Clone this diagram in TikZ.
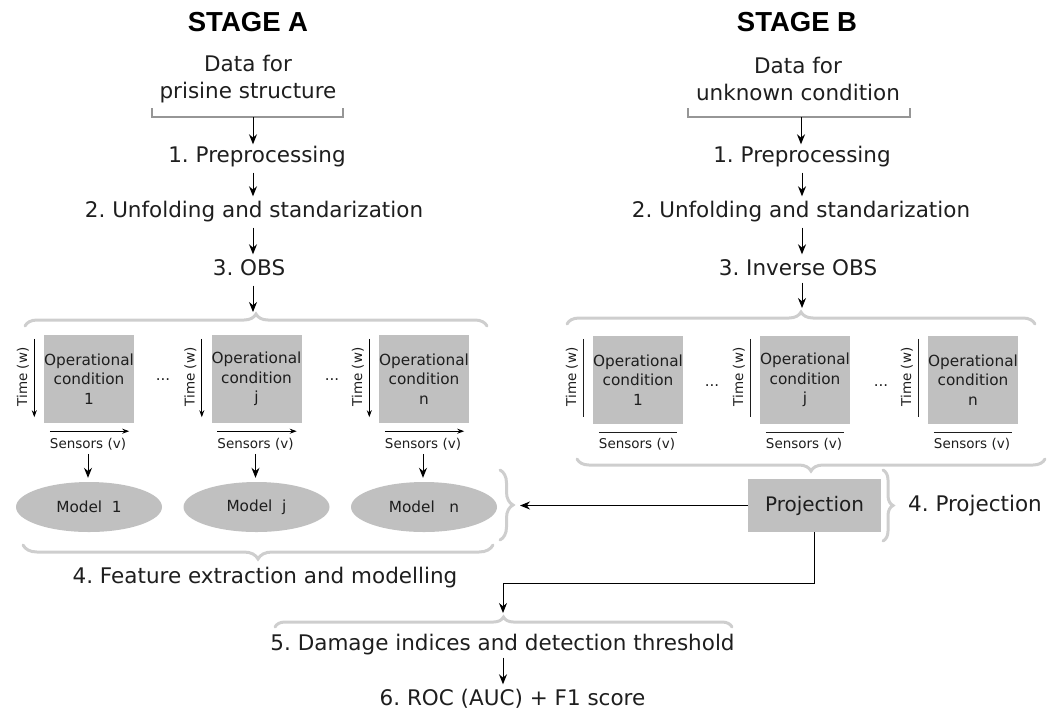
\documentclass[tikz,border=0pt]{standalone}
\usepackage{fontspec}
\setmainfont{DejaVu Sans}
\newfontfamily\titlefont{Liberation Sans}
\usetikzlibrary{shapes.geometric,arrows.meta,decorations.pathreplacing,calc}
\definecolor{boxgray}{RGB}{192,192,192}
\definecolor{bracegray}{RGB}{206,206,206}
\definecolor{brackgray}{RGB}{150,150,150}
\definecolor{txt}{RGB}{30,30,30}
\frenchspacing
\begin{document}
\frenchspacing
\begin{tikzpicture}[x=1pt,y=-1pt,
  title/.style={font=\titlefont\bfseries\fontsize{27.5}{30}\selectfont, text=black, inner sep=0pt},
  lbl/.style={font=\frenchspacing\fontsize{21.5}{27}\selectfont, text=txt, inner sep=0pt, text height=16pt, text depth=5pt},
  datalbl/.style={font=\fontsize{21.5}{27}\selectfont, text=txt, inner sep=0pt, align=center},
  tiny/.style={font=\fontsize{13.5}{16}\selectfont, text=txt},
  opbox/.style={fill=boxgray, minimum width=90pt, minimum height=88pt, inner sep=0pt, align=center, text=txt, font=\fontsize{15.3}{19.5}\selectfont},
  model/.style={ellipse, fill=boxgray, minimum width=146pt, minimum height=50pt, inner sep=0pt, text=txt, font=\fontsize{15.3}{18}\selectfont},
  projbox/.style={fill=boxgray, minimum width=133pt, minimum height=53pt, inner sep=0pt, text=txt, font=\fontsize{20}{24}\selectfont},
  dots/.style={font=\fontsize{15}{18}\selectfont, text=txt},
  arr/.style={-{Stealth[length=10pt,width=8pt]}, line width=1pt, draw=black},
  tarr/.style={-{Stealth[length=7pt,width=5pt]}, line width=0.9pt, draw=black},
  tline/.style={line width=1.1pt, draw=txt},
  bracket/.style={line width=1.2pt, draw=brackgray},
  gbrace/.style={decorate, decoration={brace, amplitude=#1}, draw=bracegray, line width=3pt, line cap=round},
]
\useasboundingbox (0,0) rectangle (1049,713);

% ---------- titles ----------
\node[title] (stA) at (248,22) {STAGE A};
\node[title] (stB) at (797,22) {STAGE B};

% ---------- column coordinates ----------
\coordinate (colA) at (253,0);
\coordinate (colB) at (802,0);

% ---------- Stage A column ----------
\node[datalbl] (dA) at (248,79) {Data for\\prisine structure};
\draw[bracket] (152,108) -- (152,117) -- (343,117) -- (343,108);
\coordinate (brA) at (253,117);
\node[lbl] (pA) at (257,157) {1. Preprocessing};
\node[lbl] (uA) at (254,212) {2. Unfolding and standarization};
\node[lbl] (oA) at (249,270) {3. OBS};
\draw[arr, shorten >=2pt] (brA) -- (pA.north -| brA);
\draw[arr, shorten <=5pt, shorten >=5pt] (pA.south -| colA) -- (uA.north -| colA);
\draw[arr, shorten <=5pt, shorten >=5pt] (uA.south -| colA) -- (oA.north -| colA);
\draw[gbrace=12pt] (25,326) -- (487,326);
\coordinate (tbA) at (253,312);
\draw[arr, shorten <=5pt] (oA.south -| colA) -- (tbA);

% ---------- Stage B column ----------
\node[datalbl] (dB) at (798,79) {Data for\\unknown condition};
\draw[bracket] (688,108) -- (688,117) -- (910,117) -- (910,108);
\coordinate (brB) at (801,117);
\node[lbl] (pB) at (802,157) {1. Preprocessing};
\node[lbl] (uB) at (801,212) {2. Unfolding and standarization};
\node[lbl] (oB) at (798,270) {3. Inverse OBS};
\draw[arr, shorten >=2pt] (brB) -- (pB.north -| brB);
\draw[arr, shorten <=5pt, shorten >=5pt] (pB.south -| colB) -- (uB.north -| colB);
\draw[arr, shorten <=5pt, shorten >=5pt] (uB.south -| colB) -- (oB.north -| colB);
\draw[gbrace=12pt] (567,324) -- (1035,324);
\coordinate (tbB) at (802,308);
\draw[arr, shorten <=2pt] (oB.south -| colB) -- (tbB);

% ---------- Stage A operational conditions ----------
\node[opbox] (cA1) at (89,379) {Operational\\condition\\1};
\node[opbox] (cA2) at (256.5,379) {Operational\\condition\\j};
\node[opbox] (cA3) at (424,379) {Operational\\condition\\n};
\foreach \b in {cA1, cA2, cA3}{
  \draw[tarr] ($(\b.north west)+(-9.5,4)$) -- ($(\b.south west)+(-9.5,-6)$);
  \node[tiny, rotate=90] (t\b) at ($(\b.west)+(-21,-2)$) {Time (w)};
  \draw[tarr] ($(\b.south west)+(6,8)$) -- ($(\b.south east)+(-5,8)$);
  \node[tiny] (s\b) at ($(\b.south)+(-1,21)$) {Sensors (v)};
}
\node[dots] (dotA1) at (163,380) {...};
\node[dots] (dotA2) at (332,380) {...};

\node[model] (mA1) at (89,507) {Model\ \ 1};
\node[model] (mA2) at (256.5,507) {Model\ \ j};
\node[model] (mA3) at (424,507) {Model\ \ \ n};
\draw[arr, shorten >=4pt] (scA1) -- (scA1 |- mA1.north);
\draw[arr, shorten >=4pt] (scA2) -- (scA2 |- mA2.north);
\draw[arr, shorten >=4pt] (scA3) -- (scA3 |- mA3.north);

\draw[gbrace=13pt] (500,470) -- (500,540);
\coordinate (tipA) at (520,505);
\draw[gbrace=14pt] (493,545) -- (23,545);
\node[lbl] (fA) at (265,578) {4. Feature extraction and modelling};

% ---------- Stage B operational conditions ----------
\node[opbox] (cB1) at (638,380) {Operational\\condition\\1};
\node[opbox] (cB2) at (805,380) {Operational\\condition\\j};
\node[opbox] (cB3) at (973,380) {Operational\\condition\\n};
\foreach \b in {cB1, cB2, cB3}{
  \draw[tline] ($(\b.north west)+(-9.5,3)$) -- ($(\b.south west)+(-9.5,-7)$);
  \node[tiny, rotate=90] (t\b) at ($(\b.west)+(-21,-3)$) {Time (w)};
  \draw[tline] ($(\b.south west)+(6,8)$) -- ($(\b.south east)+(-6,8)$);
  \node[tiny] (s\b) at ($(\b.south)+(-1,20)$) {Sensors (v)};
}
\node[dots] (dotB1) at (712,386) {...};
\node[dots] (dotB2) at (881,386) {...};
\draw[gbrace=12pt] (1045,459) -- (577,459);

% ---------- Projection ----------
\node[projbox] (proj) at (814.5,505.5) {Projection};
\draw[arr] (proj.west) -- (proj.west -| tipA);
\draw[gbrace=10pt] (883,470) -- (883,541);
\node[lbl] (pj) at (975,506) {4. Projection};

% ---------- Damage indices ----------
\draw[gbrace=10pt] (275,627) -- (732,627);
\coordinate (tip5) at (503,613);
\coordinate (turn) at (503,583);
\draw[arr] (proj.south) |- (turn) -- (tip5);
\node[lbl] (d5) at (502.5,645) {5. Damage indices and detection threshold};
\node[lbl] (r6) at (512.5,700) {6. ROC (AUC) + F1 score};
\draw[arr, shorten <=2pt, shorten >=5pt] (d5.south -| tip5) -- (r6.north -| tip5);
\end{tikzpicture}
\end{document}
